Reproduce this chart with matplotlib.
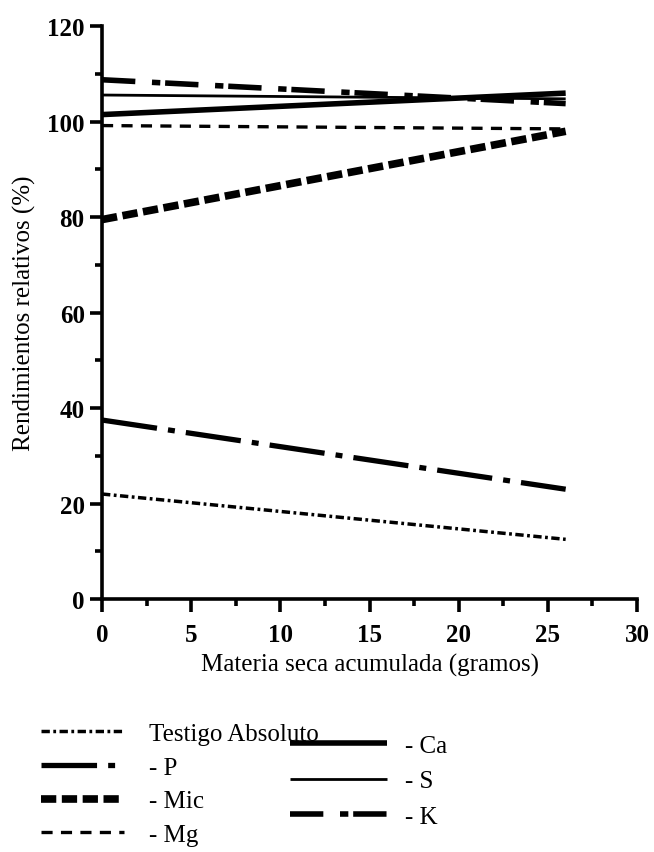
import matplotlib
matplotlib.use("Agg")
from matplotlib import pyplot as plt

plt.rcParams['font.family'] = ['Liberation Serif', 'DejaVu Serif']
plt.rcParams['lines.scale_dashes'] = False

# regression lines: value at x=0 and at x=26 g
x_vals = [0, 26]
testigo = [22.0, 12.5]
p_vals = [37.5, 23.0]
mic = [79.5, 98.0]
mg = [99.2, 98.5]
ca = [101.5, 106.0]
s_vals = [105.6, 104.8]
k_vals = [108.8, 103.8]

left_labels = ["Testigo Absoluto", "- P", "- Mic", "- Mg"]
right_labels = ["- Ca", "- S", "- K"]

fig = plt.figure(figsize=(6.54, 8.53), dpi=100)
ax = fig.add_axes([0.156, 0.2966, 0.818, 0.6714])

l_test, = ax.plot(x_vals, testigo, color='black', lw=2.5, dashes=(6, 2.5, 2, 2.5))
l_p, = ax.plot(x_vals, p_vals, color='black', lw=3.8, dashes=(40, 8, 5, 8))
l_mic, = ax.plot(x_vals, mic, color='black', lw=5.5, dashes=(11, 4))
l_mg, = ax.plot(x_vals, mg, color='black', lw=2.4, dashes=(8, 6))
l_ca, = ax.plot(x_vals, ca, color='black', lw=4.0, solid_capstyle='butt')
l_s, = ax.plot(x_vals, s_vals, color='black', lw=2.0, solid_capstyle='butt')
l_k, = ax.plot(x_vals, k_vals, color='black', lw=4.0, dashes=(24, 12, 6, 3.5))

ax.set_xlim(0, 30)
ax.set_ylim(0, 120)
ax.set_xticks(range(0, 31, 5))
ax.set_xticks([2.5 + 5 * i for i in range(6)], minor=True)
ax.set_yticks(range(0, 121, 20))
ax.set_yticks(range(10, 120, 20), minor=True)

for side in ['top', 'right']:
    ax.spines[side].set_visible(False)
for side in ['left', 'bottom']:
    ax.spines[side].set_linewidth(2.6)

ax.tick_params(axis='both', which='major', direction='out', length=9, width=2.6, labelsize=18)
ax.tick_params(axis='both', which='minor', direction='out', length=5, width=2.6)
ax.tick_params(axis='x', which='major', pad=8)
# numbers look heavy in the scan
for lbl in ax.get_xticklabels() + ax.get_yticklabels():
    lbl.set_fontweight('bold')

ax.set_xlabel("Materia seca acumulada (gramos)", fontsize=18, labelpad=5)
ax.set_ylabel("Rendimientos relativos (%)", fontsize=18, labelpad=8)

leg1 = fig.legend([l_test, l_p, l_mic, l_mg], left_labels, loc='upper left',
                  bbox_to_anchor=(0.063, 0.152), frameon=False, fontsize=18,
                  handlelength=3.3, handletextpad=1.0, labelspacing=0.45,
                  borderaxespad=0, borderpad=0)
leg2 = fig.legend([l_ca, l_s, l_k], right_labels, loc='upper left',
                  bbox_to_anchor=(0.443, 0.138), frameon=False, fontsize=18,
                  handlelength=3.9, handletextpad=0.7, labelspacing=0.52,
                  borderaxespad=0, borderpad=0)

fig.savefig("out.png", dpi=100)
